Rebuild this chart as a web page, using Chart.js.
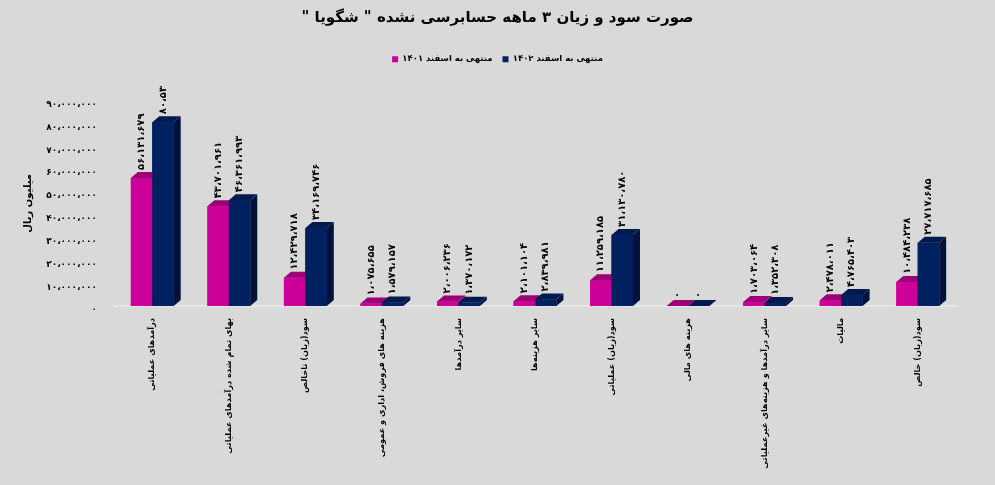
<!DOCTYPE html>
<html><head><meta charset="utf-8">
<script src="https://cdn.jsdelivr.net/npm/chart.js@4.4.0/dist/chart.umd.min.js"></script>
<style>html,body{margin:0;padding:0;background:#d9d9d9;overflow:hidden}#wrap{width:995px;height:485px;position:relative}</style>
</head><body><div id="wrap"><canvas id="c"></canvas></div>
<script>
// ---- data ----
const categories = [
  'درآمدهای عملیاتی',
  'بهای تمام شده درآمدهای عملیاتی',
  'سود(زیان) ناخالص',
  'هزینه های فروش، اداری و عمومی',
  'سایر درآمدها',
  'سایر هزینه‌ها',
  'سود(زیان) عملیاتی',
  'هزینه های مالی',
  'سایر درآمدها و هزینه‌های غیرعملیاتی',
  'مالیات',
  'سود(زیان) خالص'
];
const series1401 = [56131679, 43701961, 12429718, 1075655, 2006236, 2101104, 11259185, 0, 1703064, 2478011, 10484238];
const series1402 = [80531739, 46361993, 34169746, 1579157, 1370172, 2839981, 31130780, 0, 1352308, 4765403, 27717685];
const seriesNames = ['منتهی به اسفند ۱۴۰۱', 'منتهی به اسفند ۱۴۰۲'];
const titleText = 'صورت سود و زیان ۳ ماهه حسابرسی نشده " شگویا "';
const yAxisTitle = 'میلیون ریال';
const yMin = 0, yMax = 90000000, yStep = 10000000;

// ---- helpers ----
const FONT = "'DejaVu Sans', sans-serif";
const faDigits = '۰۱۲۳۴۵۶۷۸۹';
function toFa(n){
  return Math.round(n).toLocaleString('en-US').replace(/\d/g, d => faDigits[d]).replace(/,/g, '،');
}
const faces = [
  {front:'#cc0099', top:'#9c0076', side:'#8a0068'},
  {front:'#002060', top:'#001a4e', side:'#00123a'}
];

const bar3d = {
  id:'bar3d',
  afterDatasetsDraw(chart){
    const ctx = chart.ctx, dx = 7, dy = 6;
    const n = chart.data.labels.length;
    ctx.save();
    for (let i = 0; i < n; i++){
      chart.data.datasets.forEach((ds, di) => {
        const el = chart.getDatasetMeta(di).data[i];
        const w = el.width, l = el.x - w/2, r = el.x + w/2;
        const t = Math.min(el.y, el.base), b = Math.max(el.y, el.base);
        const f = faces[di];
        ctx.fillStyle = f.front; ctx.fillRect(l, t, w, b - t);
        ctx.fillStyle = f.side;
        ctx.beginPath(); ctx.moveTo(r, t); ctx.lineTo(r+dx, t-dy); ctx.lineTo(r+dx, b-dy); ctx.lineTo(r, b); ctx.closePath(); ctx.fill();
        ctx.fillStyle = f.top;
        ctx.beginPath(); ctx.moveTo(l, t); ctx.lineTo(l+dx, t-dy); ctx.lineTo(r+dx, t-dy); ctx.lineTo(r, t); ctx.closePath(); ctx.fill();
      });
    }
    // data labels
    ctx.beginPath(); ctx.rect(0, 86, chart.width, chart.height); ctx.clip();
    ctx.fillStyle = '#000';
    ctx.font = 'bold 10px ' + FONT;
    ctx.textAlign = 'left'; ctx.textBaseline = 'middle';
    chart.data.datasets.forEach((ds, di) => {
      chart.getDatasetMeta(di).data.forEach((el, i) => {
        const t = Math.min(el.y, el.base);
        ctx.save();
        ctx.translate(el.x, t - 8);
        ctx.rotate(-Math.PI/2);
        ctx.fillText(toFa(ds.data[i]), 0, 0);
        ctx.restore();
      });
    });
    ctx.restore();
  }
};

Chart.defaults.font.family = FONT;
Chart.defaults.color = '#000';

new Chart(document.getElementById('c'), {
  type:'bar',
  data:{
    labels: categories,
    datasets:[
      {label: seriesNames[0], data: series1401, backgroundColor: faces[0].front, borderWidth:0, categoryPercentage:0.56, barPercentage:1},
      {label: seriesNames[1], data: series1402, backgroundColor: faces[1].front, borderWidth:0, categoryPercentage:0.56, barPercentage:1}
    ]
  },
  options:{
    responsive:true, maintainAspectRatio:false, animation:false,
    layout:{padding:{left:0, right:0, top:0, bottom:0}},
    plugins:{
      title:{display:true, text:'\u200F' + titleText + '\u200F', color:'#000', font:{size:15, weight:'bold'}, padding:{top:9, bottom:18}},
      subtitle:{display:true, text:'', weight:500, font:{size:10}, padding:{top:7.5, bottom:7.6}},
      legend:{display:true, labels:{boxWidth:6, boxHeight:6, color:'#000', font:{size:8.5, weight:'bold'}, padding:10}},
      tooltip:{enabled:false}
    },
    scales:{
      x:{
        grid:{display:false, drawTicks:false},
        border:{display:true, color:'#e6e6e6', width:2},
        ticks:{maxRotation:90, minRotation:90, autoSkip:false, padding:12, color:'#000', font:{size:8.2, weight:'bold'}},
        afterFit(s){ s.height = 179; }
      },
      y:{
        min:yMin, max:yMax,
        grid:{display:false, drawTicks:false},
        border:{display:false},
        ticks:{stepSize:yStep, padding:17, labelOffset:4, color:'#000', font:{size:9, weight:'bold'}, callback:v => toFa(v)},
        title:{display:true, text:yAxisTitle, color:'#000', font:{size:10, weight:'bold'}, padding:{top:22, bottom:0}},
        afterFit(s){ s.width = 114; }
      },
      yRight:{
        position:'right', display:true,
        grid:{display:false, drawTicks:false},
        border:{display:false},
        ticks:{display:false},
        afterFit(s){ s.width = 39; }
      }
    }
  },
  plugins:[bar3d]
});
</script>
</body></html>
